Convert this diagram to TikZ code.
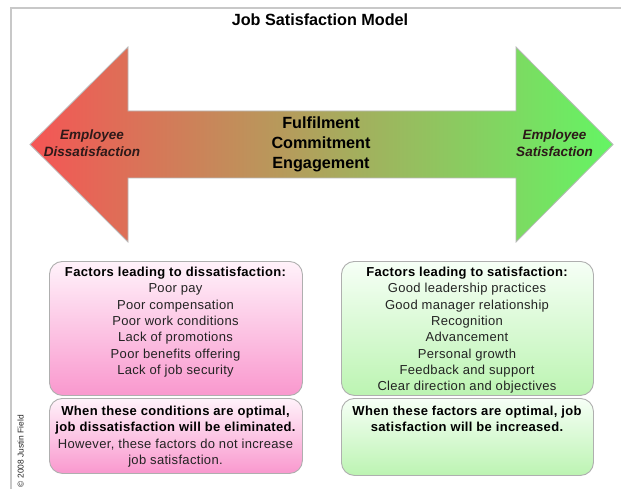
\documentclass[tikz,border=0pt]{standalone}
\usepackage{fontspec}
\setmainfont{Liberation Sans}
\definecolor{framecol}{RGB}{200,200,200}
\definecolor{arrred}{RGB}{245,85,85}
\definecolor{arrmid}{RGB}{190,155,90}
\definecolor{arrgreen}{RGB}{100,245,100}
\definecolor{arrborder}{RGB}{185,185,185}
\definecolor{pinktop}{RGB}{255,242,250}
\definecolor{pinkbot}{RGB}{249,152,206}
\definecolor{greentop}{RGB}{246,255,246}
\definecolor{greenbot}{RGB}{188,244,178}
\definecolor{boxborder}{RGB}{175,175,175}
\definecolor{txtcol}{RGB}{35,35,35}
\definecolor{endcol}{RGB}{45,25,25}
\begin{document}
\begin{tikzpicture}[x=1pt,y=-1pt,
  pinkbox/.style={draw=boxborder, line width=0.9pt, rounded corners=13pt, top color=pinktop, bottom color=pinkbot, minimum width=253, inner sep=0pt},
  greenbox/.style={draw=boxborder, line width=0.9pt, rounded corners=13pt, top color=greentop, bottom color=greenbot, minimum width=252, inner sep=0pt},
  boxtext/.style={align=center, inner sep=0pt, text=txtcol, font=\fontsize{13}{16.3}\selectfont\addfontfeature{LetterSpace=2.5}},
  endlabel/.style={align=center, inner sep=0pt, text=endcol, font=\fontsize{13.5}{16.3}\selectfont\bfseries\itshape},
  midlabel/.style={align=center, inner sep=0pt, text=black, font=\fontsize{16.2}{19.8}\selectfont\bfseries}
]
\useasboundingbox (0,0) rectangle (621,489);
\fill[white] (0,0) rectangle (621,489);
\draw[framecol, line width=2pt] (11,489) -- (11,8.5) -- (621,8.5);

\node[anchor=base, inner sep=0pt, font=\fontsize{16.2}{19}\selectfont\bfseries] (title) at (320,26) {Job Satisfaction Model};

\shadedraw[draw=arrborder, line width=0.8pt, left color=arrred, middle color=arrmid, right color=arrgreen]
  (30,144.5) -- (128,47) -- (128,111) -- (516,111) -- (516,47) -- (613,144.5)
  -- (516,242) -- (516,178) -- (128,178) -- (128,242) -- cycle;

\node[midlabel, anchor=north] (mid) at (321,116.5) {Fulfilment\\Commitment\\Engagement};
\node[endlabel, anchor=north] (dis) at (92,130) {Employee\\Dissatisfaction};
\node[endlabel, anchor=north] (sat) at (554.5,130) {Employee\\Satisfaction};

\node[pinkbox, minimum height=134, anchor=north west] (dtop) at (49,261) {};
\node[pinkbox, minimum height=75, anchor=north west] (dbot) at (49,398) {};
\node[greenbox, minimum height=134, anchor=north west] (stop) at (341,261) {};
\node[greenbox, minimum height=77, anchor=north west] (sbot) at (341,398) {};

\node[boxtext, anchor=north] (dtoptxt) at (175.5,267) {\textbf{\color{black}Factors leading to dissatisfaction:}\\Poor pay\\Poor compensation\\Poor work conditions\\Lack of promotions\\Poor benefits offering\\Lack of job security};
\node[boxtext, anchor=north] (dbottxt) at (175.5,406) {\textbf{\color{black}When these conditions are optimal,}\\\textbf{\color{black}job dissatisfaction will be eliminated.}\\However, these factors do not increase\\job satisfaction.};
\node[boxtext, anchor=north] (stoptxt) at (467,267) {\textbf{\color{black}Factors leading to satisfaction:}\\Good leadership practices\\Good manager relationship\\Recognition\\Advancement\\Personal growth\\Feedback and support\\Clear direction and objectives};
\node[boxtext, anchor=north] (sbottxt) at (467,406) {\textbf{\color{black}When these factors are optimal, job}\\\textbf{\color{black}satisfaction will be increased.}};

\node[rotate=90, inner sep=0pt, text=txtcol, font=\fontsize{8.4}{10}\selectfont] (copy) at (20.5,451) {© 2008 Justin Field};
\end{tikzpicture}
\end{document}
